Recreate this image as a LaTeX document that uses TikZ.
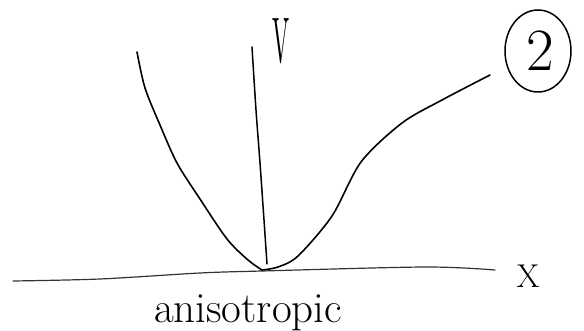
\documentclass[tikz,border=0pt]{standalone}
\usepackage{graphicx}
\begin{document}
\begin{tikzpicture}[x=1pt,y=-1pt,line cap=round,line join=round]
        \useasboundingbox (0,0) rectangle (584,331);
        % Ejes
        \draw[line width=1.2pt,black!80] plot[smooth] coordinates {(13,281) (100,279) (200,273) (262,271) (425,267) (495,270)};
        \draw[line width=1.5pt] plot[smooth] coordinates {(252,47) (256,110) (260,163) (264,220) (267,264)};
        % Curva
        \draw[line width=1.6pt] plot[smooth] coordinates {(137,52) (145,88) (160,125) (177,163) (200,199) (227,239) (248,260) (262,270)};
        \draw[line width=1.6pt] plot[smooth] coordinates {(262,270) (278,267) (298,256) (332,216) (361,162) (402,123) (442,100) (490,75)};
        % Etiquetas
        \node[inner sep=0] (lblV) at (281,41) {\resizebox{17pt}{44pt}{V}};
        \node[inner sep=0] (lblX) at (528,276) {\fontsize{33}{33}\selectfont X};
        \node[inner sep=0] (num) at (540,51) {\fontsize{60}{60}\selectfont 2};
        \draw[line width=1.5pt] (538,51) ellipse [x radius=33pt, y radius=41pt];
        \node[anchor=base,inner sep=0] (lblAniso) at (248,323) {\fontsize{43}{43}\selectfont anisotropic};
\end{tikzpicture}
\end{document}
